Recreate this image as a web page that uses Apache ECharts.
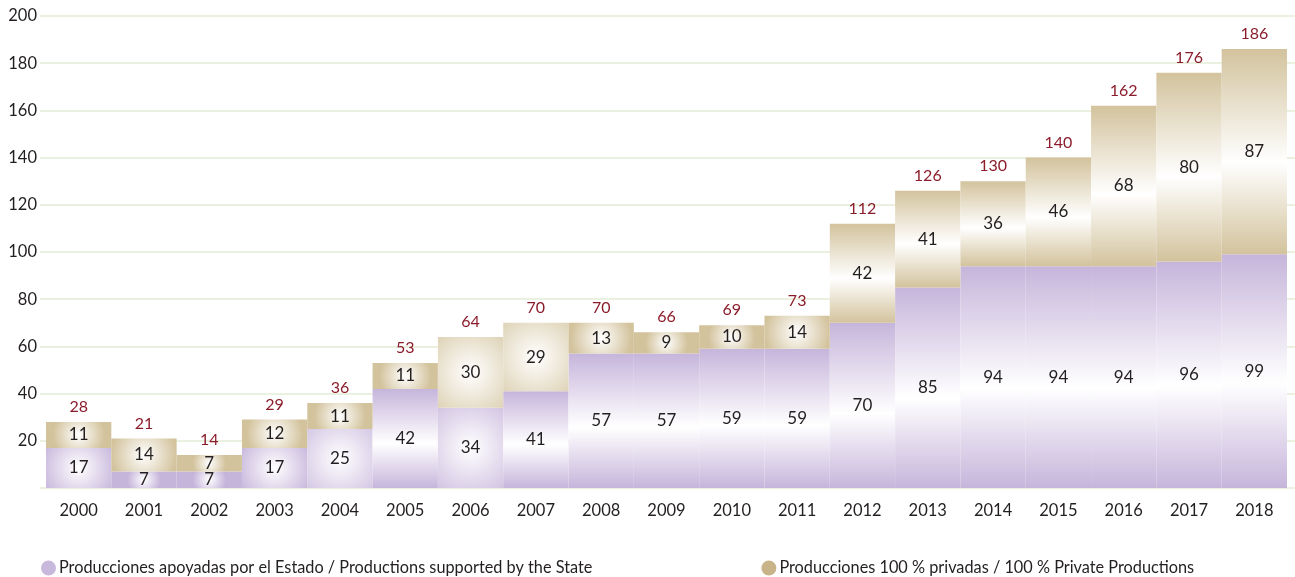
<!DOCTYPE html>
<html>
<head>
<meta charset="utf-8">
<script src="https://cdn.jsdelivr.net/npm/echarts@6/dist/echarts.min.js"></script>
<style>
  html, body { margin: 0; padding: 0; background: #fff; }
  #chart { width: 1295px; height: 577px; }
</style>
</head>
<body>
<div id="chart"></div>
<script>
// data
var years = ['2000', '2001', '2002', '2003', '2004', '2005', '2006', '2007', '2008', '2009',
             '2010', '2011', '2012', '2013', '2014', '2015', '2016', '2017', '2018'];
var stateSupported = [17, 7, 7, 17, 25, 42, 34, 41, 57, 57, 59, 59, 70, 85, 94, 94, 94, 96, 99];
var privateOnly = [11, 14, 7, 12, 11, 11, 30, 29, 13, 9, 10, 14, 42, 41, 36, 46, 68, 80, 87];
var totals = [28, 21, 14, 29, 36, 53, 64, 70, 70, 66, 69, 73, 112, 126, 130, 140, 162, 176, 186];
var yTicks = [0, 20, 40, 60, 80, 100, 120, 140, 160, 180, 200];

var names = [
    'Producciones apoyadas por el Estado / Productions supported by the State',
    'Producciones 100 % privadas / 100 % Private Productions'
];

var FONT = 'Lato';

// box-ish gradient: radial for short bars, vertical for tall ones
function fillFor(v, edge) {
    if (v < 36) {
        return new echarts.graphic.RadialGradient(0.5, 0.5, 1.0, [
            { offset: 0, color: '#ffffff' },
            { offset: 1, color: edge }
        ]);
    }
    return new echarts.graphic.LinearGradient(0, 0, 0, 1, [
        { offset: 0, color: edge },
        { offset: 0.55, color: '#ffffff' },
        { offset: 1, color: edge }
    ]);
}

function styled(values, edge) {
    return values.map(function (v) {
        return { value: v, itemStyle: { color: fillFor(v, edge) } };
    });
}

var chart = echarts.init(document.getElementById('chart'));

chart.setOption({
    animation: false,
    legend: {
        left: 36,
        top: 555,
        itemGap: 169,
        icon: 'circle',
        itemWidth: 15,
        itemHeight: 15,
        textStyle: { fontFamily: FONT, fontSize: 16.3, color: '#231f20', padding: [0, 0, 0, -2] },
        data: [
            { name: names[0], itemStyle: { color: '#c8b8dc' } },
            { name: names[1], itemStyle: { color: '#c9b489' } }
        ]
    },
    grid: [
        { left: 40, right: 0, top: 16, bottom: 89 },
        { left: 46, right: 8, top: 16, bottom: 89 }
    ],
    xAxis: [
        { type: 'value', gridIndex: 0, show: false, min: 0, max: 1 },
        {
            type: 'category', gridIndex: 1, data: years,
            axisLine: { show: false }, axisTick: { show: false },
            axisLabel: { margin: 14, fontFamily: FONT, fontSize: 16.5, color: '#231f20' }
        }
    ],
    yAxis: [
        {
            type: 'value', gridIndex: 0, min: 0, max: 200, interval: 20,
            axisLine: { show: false }, axisTick: { show: false },
            axisLabel: {
                margin: 3, fontFamily: FONT, fontSize: 16.5, color: '#231f20',
                formatter: function (v) { return yTicks.indexOf(v) > 0 ? v : ''; }
            },
            splitLine: { lineStyle: { color: '#e3edd5', width: 1.5 } }
        },
        {
            type: 'value', gridIndex: 1, min: 0, max: 200, interval: 20,
            show: false, splitLine: { show: false }
        }
    ],
    series: [
        {
            name: names[0], type: 'bar', stack: 'all',
            xAxisIndex: 1, yAxisIndex: 1,
            barCategoryGap: '0%',
            itemStyle: { color: '#c8b8dc' },
            label: {
                show: true, position: 'inside',
                fontFamily: FONT, fontSize: 17, color: '#231f20'
            },
            data: styled(stateSupported, '#c6b5db')
        },
        {
            name: names[1], type: 'bar', stack: 'all',
            xAxisIndex: 1, yAxisIndex: 1,
            barCategoryGap: '0%',
            itemStyle: { color: '#c9b489' },
            label: {
                show: true, position: 'inside',
                fontFamily: FONT, fontSize: 17, color: '#231f20'
            },
            data: styled(privateOnly, '#d3c39d')
        },
        {
            // totals above each bar
            name: 'total', type: 'bar', stack: 'all',
            xAxisIndex: 1, yAxisIndex: 1,
            barCategoryGap: '0%',
            itemStyle: { color: 'transparent' },
            label: {
                show: true, position: 'insideBottom', distance: 7,
                fontFamily: FONT, fontSize: 16, color: '#8b1c2b',
                formatter: function (p) { return totals[p.dataIndex]; }
            },
            data: totals.map(function () { return 0.001; })
        }
    ]
});
</script>
</body>
</html>
